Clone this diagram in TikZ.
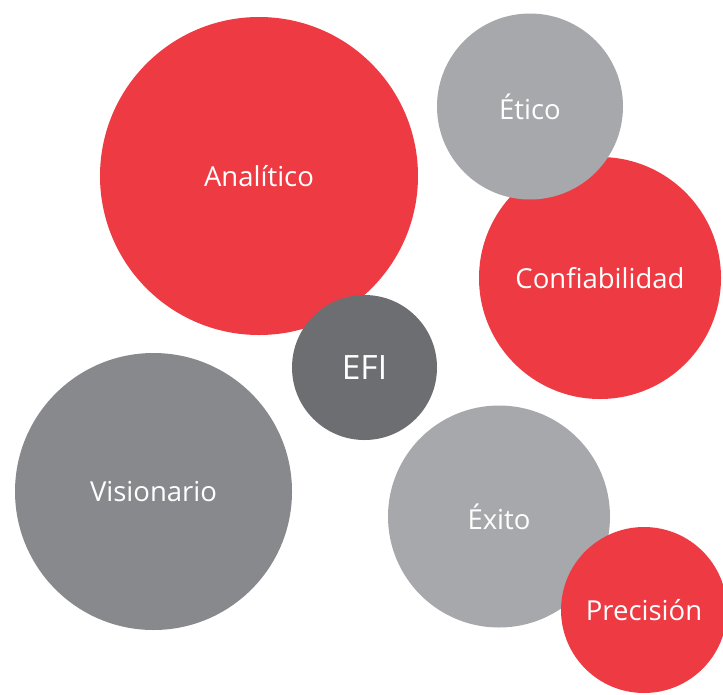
\documentclass[tikz,border=0pt]{standalone}
\usepackage{fontspec}
\setmainfont{Open Sans}
\definecolor{efired}{HTML}{EE3B43}
\definecolor{lightgr}{HTML}{A7A8AB}
\definecolor{midgr}{HTML}{88898D}
\definecolor{darkgr}{HTML}{6D6E72}
\tikzset{
  bubble/.style={circle, inner sep=0pt, text=white, font=\fontsize{27.5}{32}\selectfont, minimum size=#1},
  redb/.style={bubble=#1, fill=efired},
  lightb/.style={bubble=#1, fill=lightgr},
  midb/.style={bubble=#1, fill=midgr},
  darkb/.style={bubble=#1, fill=darkgr}
}
\begin{document}
\begin{tikzpicture}[x=1pt,y=-1pt]
\useasboundingbox (0,0) rectangle (723,694);
\node[redb=318pt] (ana) at (259,176) {Analítico};
\node[redb=242pt] (conf) at (600,278) {Confiabilidad};
\node[lightb=186pt] (etico) at (530,106.5) {Ético};
\node[midb=277pt] (vis) at (153.5,491.5) {Visionario};
\node[darkb=145pt, font=\fontsize{33.5}{38}\selectfont] (efi) at (364.5,367.5) {EFI};
\node[lightb=222pt] (exito) at (499,516.5) {Éxito};
\node[redb=166pt] (prec) at (644,610) {Precisión};
\end{tikzpicture}
\end{document}
